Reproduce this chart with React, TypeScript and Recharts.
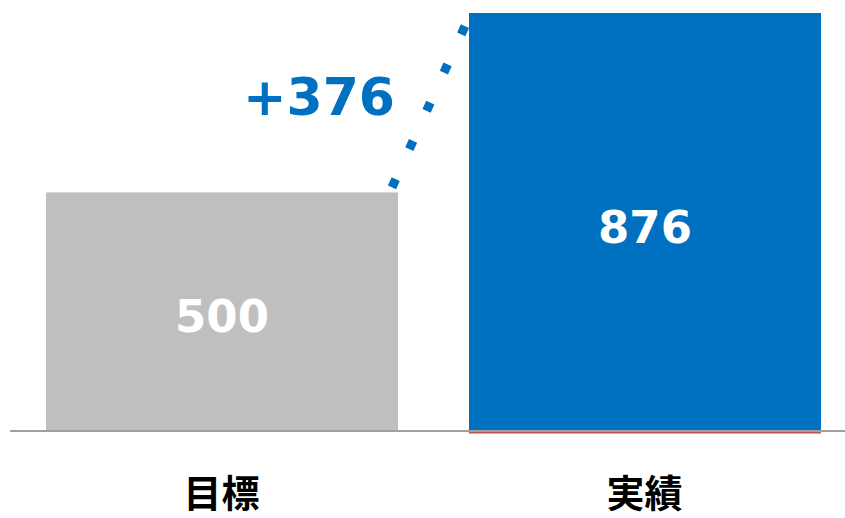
import { BarChart, Bar, XAxis, YAxis, Cell, LabelList } from 'recharts';

const categories = ['目標', '実績'];
const values = [500, 876];
const colors = ['#BFBFBF', '#0070C0'];

const data = categories.map((name, i) => ({ name, value: values[i] }));

const CHART_W = 856;
const CHART_H = 518;
const MARGIN = { top: 13, right: 0, left: 10, bottom: 0 };
const BAR_SIZE = 352;
const BAND = (CHART_W - MARGIN.left - MARGIN.right) / data.length;
const GAP = BAND - BAR_SIZE;

const BarShape = (props: any) => {
  const { x, y, width, height, fill, index } = props;
  if (index === 0) {
    // connector from target bar to result bar, plus the difference label
    const ppu = height / values[0];
    const nextLeft = x + width + GAP;
    const nextTop = y + height - values[1] * ppu;
    const x1 = x + width - 6;
    const y1 = y - 5;
    const x2 = nextLeft - 4;
    const y2 = nextTop + 13;
    const diff = values[1] - values[0];
    return (
      <g>
        <rect x={x} y={y} width={width} height={height} fill={fill} />
        <line
          x1={x1}
          y1={y1}
          x2={x2}
          y2={y2}
          stroke="#0070C0"
          strokeWidth={9}
          strokeDasharray="9 33"
        />
        <text
          x={x + width - 3}
          y={nextTop + (y - nextTop) * 0.47}
          textAnchor="end"
          dominantBaseline="central"
          fill="#0070C0"
          fontFamily="DejaVu Sans"
          fontWeight="bold"
          fontSize={52}
        >
          {'+' + diff}
        </text>
      </g>
    );
  }
  return (
    <g>
      <rect x={x} y={y} width={width} height={height} fill={fill} />
      <rect x={x} y={y + height + 0.5} width={width} height={2} fill="#BE5250" />
    </g>
  );
};

const ValueLabel = (props: any) => {
  const { x, y, width, height, value } = props;
  return (
    <text
      x={x + width / 2}
      y={y + height / 2 + 5}
      textAnchor="middle"
      dominantBaseline="central"
      fill="#FFFFFF"
      fontFamily="DejaVu Sans"
      fontWeight="bold"
      fontSize={45}
    >
      {value}
    </text>
  );
};

const CategoryTick = (props: any) => {
  const { x, y, payload } = props;
  return (
    <text
      x={x}
      y={y + 68}
      textAnchor="middle"
      fill="#000000"
      fontFamily="Noto Sans CJK JP"
      fontWeight={700}
      fontSize={38}
    >
      {payload.value}
    </text>
  );
};

export default function App() {
  return (
    <div style={{ position: 'absolute', left: 0, top: 0, width: 845, height: 518, overflow: 'hidden', background: '#fff' }}>
      <BarChart width={CHART_W} height={CHART_H} data={data} margin={MARGIN} barSize={BAR_SIZE}>
        <XAxis
          dataKey="name"
          axisLine={{ stroke: '#A0A0A0', strokeWidth: 2 }}
          tickLine={false}
          height={87}
          interval={0}
          tick={<CategoryTick />}
        />
        <YAxis hide domain={[0, 876]} />
        <Bar dataKey="value" isAnimationActive={false} shape={<BarShape />}>
          {data.map((d, i) => (
            <Cell key={d.name} fill={colors[i]} />
          ))}
          <LabelList dataKey="value" content={<ValueLabel />} />
        </Bar>
      </BarChart>
    </div>
  );
}
